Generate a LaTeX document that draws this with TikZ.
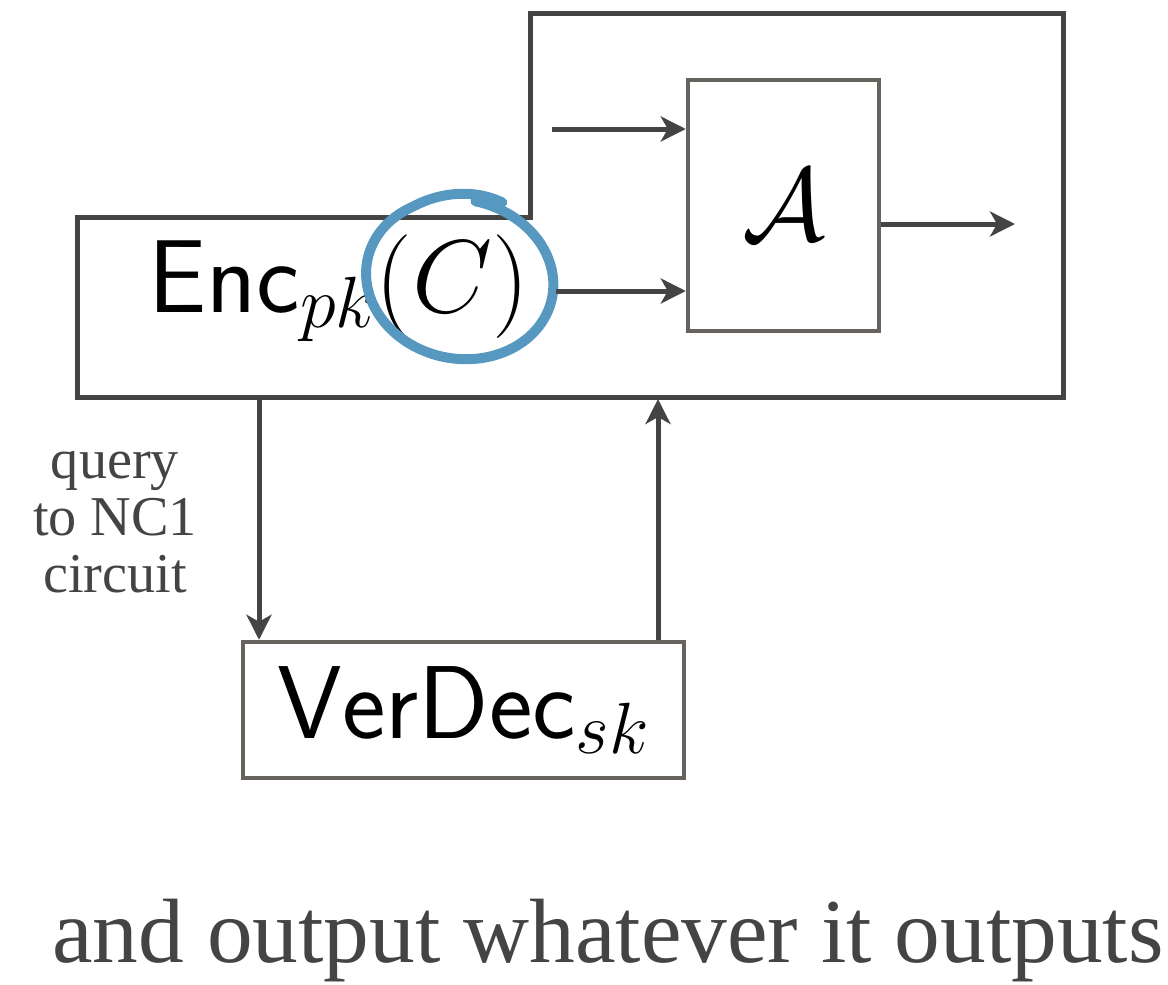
\documentclass[tikz,border=0pt]{standalone}
\usepackage{fix-cm}
\usepackage{fontspec}
\newfontfamily\notefont{Liberation Serif}
\usetikzlibrary{arrows.meta, positioning}
\definecolor{linegray}{HTML}{444444}
\definecolor{boxgray}{HTML}{67635F}
\definecolor{circblue}{HTML}{5698C0}

\begin{document}
\begin{tikzpicture}[x=0.02cm,y=-0.02cm,
    >={Stealth[length=0.5cm,width=0.5cm,inset=0.14cm]},
    arr/.style={->,draw=linegray,line width=0.1cm},
    outer/.style={draw=linegray,line width=0.1cm,line join=miter},
    blk/.style={draw=boxgray,line width=0.09cm,inner sep=0pt},
    big/.style={font=\fontsize{59}{64}\selectfont,inner sep=0pt},
    note/.style={text=linegray,inner sep=0pt}]
  \useasboundingbox (0,0) rectangle (1168,984);
  % outer box with the step
  \draw[outer] (77,217) -- (530,217) -- (530,13) -- (1063,13) -- (1063,397) -- (77,397) -- cycle;
  % adversary and decryption oracle
  \node[blk,big,minimum width=3.82cm,minimum height=5.02cm] (adv) at (783.5,205.5) {$\mathcal{A}$};
  \node[blk,big,minimum width=8.82cm,minimum height=2.72cm] (ver) at (463.5,710) {$\mathsf{VerDec}_{sk}$};
  \node[big,anchor=base west] (enc) at (148,312) {$\mathsf{Enc}_{pk}(C)$};
  % hand drawn circle round the ciphertext
  \draw[circblue,line width=0.2cm,line cap=round]
    plot[smooth,domain=62:440,samples=90]
    ({459+(92+3*(\x-62)/380)*cos(\x)},{279-(80+10*max(0,(120-\x)/58))*sin(\x)+6*cos(\x)});
  \coordinate (in1) at (552,129);
  \coordinate (in2) at (556,291);
  \coordinate (out) at (1015,224);
  \coordinate (qry) at (259,397);
  \coordinate (ans) at (658,399);
  \draw[arr] (in1) -- (in1 -| adv.west);
  \draw[arr] (in2) -- (in2 -| adv.west);
  \draw[arr] (out -| adv.east) -- (out);
  \draw[arr] (qry) -- (qry |- ver.north);
  \draw[arr] (ans |- ver.north) -- (ans);
  \node[note,align=center,font=\notefont\fontsize{32}{32.5}\selectfont] (qlabel) at (115,522) {query\\to NC1\\circuit};
  \node[note,anchor=base,font=\notefont\fontsize{52}{56}\selectfont] (tail) at (608,962) {and output whatever it outputs};
\end{tikzpicture}
\end{document}
